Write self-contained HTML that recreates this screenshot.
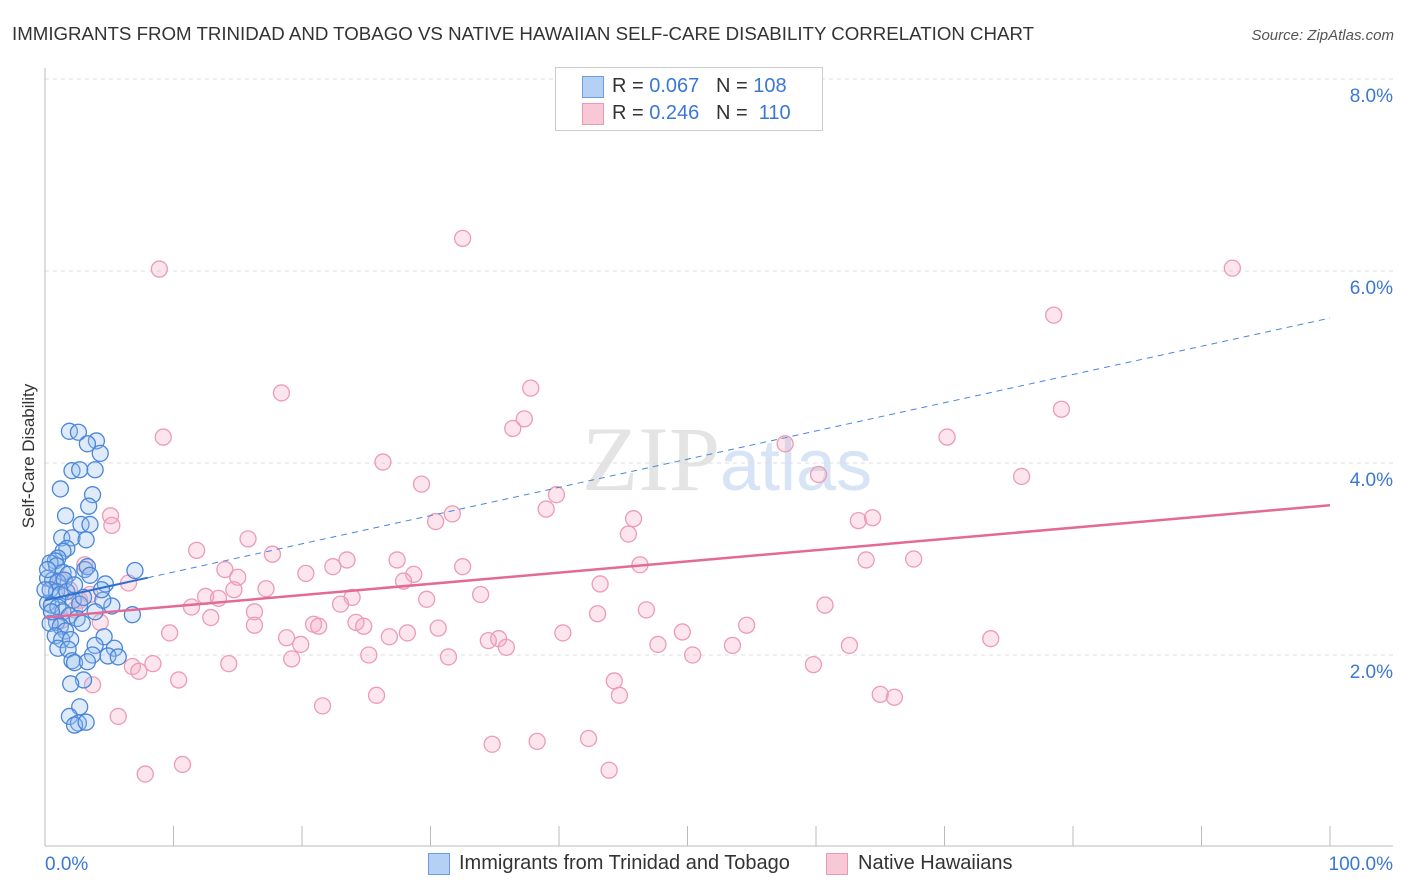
<!DOCTYPE html>
<html><head><meta charset="utf-8">
<style>
body{margin:0;background:#fff;font-family:"Liberation Sans",sans-serif;}
#wrap{position:relative;width:1406px;height:892px;overflow:hidden;}
</style></head>
<body>
<div id="wrap">
<svg id="svg" width="1406" height="892" xmlns="http://www.w3.org/2000/svg">
<text x="12" y="40" font-size="18.7" fill="#333">IMMIGRANTS FROM TRINIDAD AND TOBAGO VS NATIVE HAWAIIAN SELF-CARE DISABILITY CORRELATION CHART</text>
<text x="1394" y="40" font-size="15" fill="#555" font-style="italic" text-anchor="end">Source: ZipAtlas.com</text>
<text x="720" y="490" font-size="92" fill="#e4e4e4" text-anchor="end" font-family="Liberation Serif">ZIP</text>
<text x="720" y="490" font-size="72" fill="#d6e4f5">atlas</text>
<g id="grid"></g>
<g id="marks"></g>
<text transform="translate(34,456) rotate(-90)" font-size="17" fill="#333" text-anchor="middle">Self-Care Disability</text>
</svg>
<div style="position:absolute;left:555px;top:67px;width:266px;height:62px;border:1px solid #ccc;background:#fff;font-size:20px;color:#333">
 <div style="position:absolute;left:26px;top:8px;width:20px;height:20px;background:#b5d0f5;border:1px solid #6a9ee0"></div>
 <div style="position:absolute;left:56px;top:7px">R = <span style="color:#3a78d4">0.067</span>&nbsp;&nbsp;&nbsp;N = <span style="color:#3a78d4">108</span></div>
 <div style="position:absolute;left:26px;top:35px;width:20px;height:20px;background:#f8c8d6;border:1px solid #e89ab3"></div>
 <div style="position:absolute;left:56px;top:34px">R = <span style="color:#3a78d4">0.246</span>&nbsp;&nbsp;&nbsp;N = &nbsp;<span style="color:#3a78d4">110</span></div>
</div>
<div style="position:absolute;left:428px;top:853px;width:20px;height:20px;background:#b5d0f5;border:1px solid #6a9ee0"></div>
<div style="position:absolute;left:459px;top:852px;font-size:20px;color:#333">Immigrants from Trinidad and Tobago</div>
<div style="position:absolute;left:826px;top:853px;width:20px;height:20px;background:#f8c8d6;border:1px solid #e89ab3"></div>
<div style="position:absolute;left:858px;top:852px;font-size:20px;color:#333">Native Hawaiians</div>
</div>
<script>
const yTicks=[2,4,6,8];
const yTickLabels=["2.0%","4.0%","6.0%","8.0%"];
const xTickLabels=["0.0%","100.0%"];
const pinkX=[8.9,32.5,92.4,78.5,18.4,37.8,37.3,36.4,9.2,79.1,70.2,57.6,26.3,60.2,76.0,29.3,39.8,39.0,31.7,30.4,45.8,63.3,64.4,5.1,5.2,15.8,45.4,11.8,17.7,23.5,27.4,32.5,46.3,63.9,67.6,14.0,20.3,22.4,28.7,27.9,6.5,43.2,12.5,15.0,17.2,13.5,14.7,33.9,23.9,29.7,16.3,11.4,12.9,23.0,60.7,46.8,43.0,24.2,24.8,20.9,21.3,16.3,54.6,9.7,28.2,30.6,40.3,49.6,26.8,18.8,35.3,34.5,35.9,47.7,53.5,62.6,73.6,19.9,25.2,31.4,50.4,19.2,8.4,14.3,6.8,7.3,59.8,10.4,44.3,44.7,25.8,65.0,66.1,21.6,5.7,3.7,34.8,38.3,42.3,43.9,7.8,10.7,1.2,1.9,2.7,4.3,3.1,2.3,1.3,3.5];
const pinkY=[6.02,6.34,6.03,5.54,4.73,4.78,4.46,4.36,4.27,4.56,4.27,4.20,4.01,3.88,3.86,3.78,3.67,3.52,3.47,3.39,3.42,3.40,3.43,3.45,3.35,3.21,3.26,3.09,3.05,2.99,2.99,2.92,2.94,2.99,3.00,2.89,2.85,2.92,2.84,2.77,2.75,2.74,2.61,2.81,2.69,2.59,2.68,2.63,2.60,2.58,2.45,2.50,2.39,2.53,2.52,2.47,2.43,2.34,2.30,2.32,2.30,2.31,2.31,2.23,2.23,2.28,2.23,2.24,2.19,2.18,2.17,2.15,2.08,2.11,2.10,2.10,2.17,2.11,2.00,1.98,2.00,1.96,1.91,1.91,1.88,1.83,1.90,1.74,1.73,1.58,1.58,1.59,1.56,1.47,1.36,1.69,1.07,1.10,1.13,0.80,0.76,0.86,2.78,2.68,2.57,2.34,2.94,2.47,2.36,2.63];
const blueX=[1.9,2.6,4.0,3.3,4.3,2.1,2.7,3.9,1.2,3.7,3.4,1.6,2.8,3.5,1.3,2.1,3.2,1.7,1.4,1.0,0.8,0.4,0.9,1.4,1.8,3.1,3.3,7.0,0.2,0.6,1.0,1.5,4.7,0.4,0.9,1.2,1.7,2.2,2.7,0.2,0.5,1.0,3.0,5.2,4.5,3.9,1.4,1.9,2.5,0.9,0.4,6.8,1.2,2.9,1.6,0.8,1.3,2.0,4.6,3.9,1.0,1.8,5.4,3.7,4.9,5.7,2.1,2.3,3.3,3.0,2.0,2.7,1.9,2.6,2.3,3.2,0.2,0.0,0.5,2.3,3.5,4.4];
const blueY=[4.33,4.32,4.23,4.20,4.10,3.92,3.93,3.93,3.73,3.67,3.55,3.45,3.36,3.36,3.22,3.22,3.20,3.11,3.08,3.01,2.98,2.96,2.93,2.86,2.84,2.89,2.92,2.88,2.80,2.78,2.76,2.78,2.74,2.68,2.66,2.63,2.66,2.57,2.53,2.54,2.52,2.50,2.60,2.51,2.57,2.45,2.45,2.41,2.38,2.34,2.33,2.42,2.30,2.33,2.25,2.20,2.16,2.16,2.19,2.10,2.07,2.06,2.07,2.00,1.99,1.98,1.94,1.92,1.93,1.74,1.70,1.46,1.36,1.29,1.27,1.30,2.89,2.68,2.45,2.73,2.83,2.68];
const blueTrend=[2.57,5.51];
const pinkTrend=[2.39,3.56];
const X=v=>45+v*12.85, Y=v=>847-v*96;
const NS="http://www.w3.org/2000/svg";
function mk(p,tag,at){const e=document.createElementNS(NS,tag);for(const k in at)e.setAttribute(k,at[k]);p.appendChild(e);return e;}
const g=document.getElementById('grid'), m=document.getElementById('marks');
yTicks.forEach((t,i)=>{
 const l=mk(g,'line',{x1:45,x2:1393,y1:Y(t),y2:Y(t),stroke:'#ddd','stroke-dasharray':'4,4'});
 
 
 const tx=mk(g,'text',{x:1393,y:Y(t)+23,'font-size':19,fill:'#3a78d4','text-anchor':'end'});
 tx.textContent=yTickLabels[i];
 
 
});
const ax=mk(g,'line',{x1:45,x2:1393,y1:846,y2:846,stroke:'#bbb'});


const ay=mk(g,'line',{x1:45,x2:45,y1:68,y2:846,stroke:'#bbb'});


for(let i=0;i<=10;i++){const t=mk(g,'line',{x1:X(i*10),x2:X(i*10),y1:826,y2:846,stroke:'#bbb'});
 
 }
[[0,'start',45],[100,'end',1393]].forEach((d,i)=>{const t=mk(g,'text',{x:d[2],y:870,'font-size':19,fill:'#3a78d4','text-anchor':d[1]});t.textContent=xTickLabels[i];
 
 });
pinkX.forEach((x,i)=>{const c=mk(m,'circle',{cx:X(x),cy:Y(pinkY[i]),r:8,fill:'rgba(244,170,195,0.3)',stroke:'#ec9bb6','stroke-width':1.3});
 
 });
blueX.forEach((x,i)=>{const c=mk(m,'circle',{cx:X(x),cy:Y(blueY[i]),r:8,fill:'rgba(150,190,240,0.3)',stroke:'#4a86d9','stroke-width':1.3});
 
 });
const bv=x=>blueTrend[0]+(blueTrend[1]-blueTrend[0])*x/100;
const pv=x=>pinkTrend[0]+(pinkTrend[1]-pinkTrend[0])*x/100;
let l=mk(m,'line',{x1:X(8),y1:Y(bv(8)),x2:X(100),y2:Y(bv(100)),stroke:'#4a86d9','stroke-width':1,'stroke-dasharray':'6,5'});


l=mk(m,'line',{x1:X(0),y1:Y(bv(0)),x2:X(8),y2:Y(bv(8)),stroke:'#2f6fd0','stroke-width':2});


l=mk(m,'line',{x1:X(0),y1:Y(pv(0)),x2:X(100),y2:Y(pv(100)),stroke:'#e36a96','stroke-width':2.5});


</script>
</body></html>
